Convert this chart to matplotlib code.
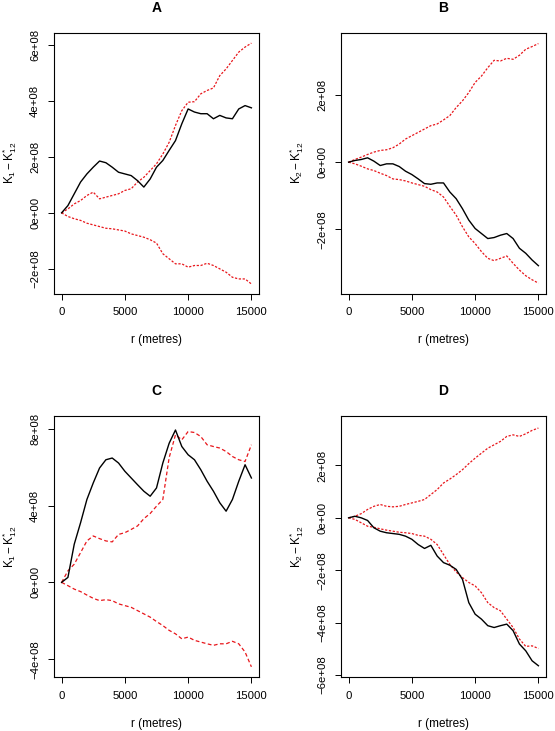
import numpy as np
import matplotlib
matplotlib.use("Agg")
import matplotlib.pyplot as plt

plt.rcParams['font.family'] = ['Liberation Sans', 'DejaVu Sans']
plt.rcParams['mathtext.fontset'] = 'custom'
plt.rcParams['mathtext.rm'] = 'Liberation Sans'
plt.rcParams['mathtext.it'] = 'Liberation Sans:italic'

# distance (metres), every 500 m
r = np.arange(0, 15001, 500)

# values in units of 1e+08
# panel A
a_obs = [0, 0.26, 0.68, 1.1, 1.39, 1.63, 1.85, 1.79, 1.63, 1.45, 1.39, 1.33, 1.15, 0.92, 1.21, 1.63,
         1.87, 2.23, 2.58, 3.18, 3.71, 3.6, 3.54, 3.54, 3.36, 3.48, 3.39, 3.36, 3.71, 3.83, 3.75]
a_hi = [0, 0.14, 0.32, 0.44, 0.62, 0.74, 0.5, 0.56, 0.62, 0.68, 0.8, 0.86, 1.1, 1.27, 1.51, 1.75,
        2.1, 2.52, 3.12, 3.65, 3.95, 3.97, 4.25, 4.37, 4.46, 4.9, 5.14, 5.44, 5.74, 5.92, 6.06]
a_lo = [0, -0.13, -0.21, -0.27, -0.37, -0.43, -0.49, -0.55, -0.57, -0.61, -0.65, -0.75, -0.81, -0.87,
        -0.96, -1.08, -1.46, -1.64, -1.82, -1.82, -1.94, -1.88, -1.88, -1.8, -1.88, -2.0, -2.12,
        -2.3, -2.36, -2.36, -2.54]
# panel B
b_obs = [0, 0.05, 0.08, 0.13, 0.03, -0.1, -0.05, -0.05, -0.13, -0.27, -0.37, -0.5, -0.64, -0.66,
         -0.62, -0.62, -0.89, -1.09, -1.39, -1.73, -1.98, -2.13, -2.28, -2.25, -2.18, -2.13, -2.28,
         -2.57, -2.72, -2.92, -3.09]
b_hi = [0, 0.08, 0.15, 0.23, 0.3, 0.35, 0.37, 0.43, 0.54, 0.69, 0.79, 0.89, 0.99, 1.09, 1.14, 1.26,
        1.39, 1.63, 1.83, 2.08, 2.38, 2.57, 2.82, 3.04, 3.02, 3.1, 3.07, 3.19, 3.37, 3.45, 3.54]
b_lo = [0, -0.05, -0.12, -0.2, -0.25, -0.33, -0.4, -0.5, -0.52, -0.56, -0.62, -0.67, -0.72, -0.82,
        -0.89, -1.04, -1.32, -1.58, -1.93, -2.23, -2.43, -2.67, -2.87, -2.94, -2.87, -2.8, -3.02,
        -3.22, -3.39, -3.51, -3.61]
# panel C
c_obs = [0, 0.26, 1.99, 3.11, 4.32, 5.18, 5.96, 6.39, 6.48, 6.22, 5.79, 5.44, 5.09, 4.75, 4.49, 4.92,
         6.22, 7.25, 7.94, 7.08, 6.65, 6.39, 5.87, 5.27, 4.75, 4.15, 3.71, 4.32, 5.27, 6.13, 5.44]
c_hi = [0, 0.6, 0.95, 1.55, 2.16, 2.42, 2.28, 2.16, 2.11, 2.5, 2.59, 2.76, 2.94, 3.32, 3.59, 3.97,
        4.32, 6.5, 7.69, 7.43, 7.86, 7.81, 7.6, 7.17, 7.08, 7.0, 6.82, 6.56, 6.39, 6.3, 7.17]
c_lo = [0, -0.17, -0.35, -0.48, -0.66, -0.83, -0.95, -0.9, -0.95, -1.12, -1.21, -1.3, -1.47, -1.64,
        -1.81, -2.04, -2.25, -2.5, -2.68, -2.94, -2.85, -3.02, -3.11, -3.2, -3.28, -3.2, -3.2,
        -3.07, -3.2, -3.63, -4.4]
# panel D
d_obs = [0, 0.06, 0, -0.1, -0.38, -0.51, -0.57, -0.6, -0.63, -0.7, -0.82, -1.02, -1.17, -1.05,
         -1.46, -1.71, -1.81, -1.97, -2.35, -3.24, -3.68, -3.87, -4.12, -4.19, -4.12, -4.06, -4.31,
         -4.82, -5.08, -5.46, -5.65]
d_hi = [0, 0.06, 0.16, 0.32, 0.44, 0.51, 0.44, 0.42, 0.44, 0.51, 0.57, 0.63, 0.7, 0.89, 1.08, 1.33,
        1.48, 1.65, 1.84, 2.07, 2.28, 2.47, 2.66, 2.79, 2.92, 3.11, 3.17, 3.11, 3.21, 3.34, 3.43]
d_lo = [0, -0.06, -0.19, -0.32, -0.36, -0.42, -0.47, -0.51, -0.55, -0.57, -0.6, -0.67, -0.7, -0.82,
        -1.02, -1.4, -1.78, -2.07, -2.28, -2.47, -2.6, -2.86, -3.24, -3.43, -3.55, -3.87, -4.19,
        -4.63, -4.91, -4.89, -4.99]

panel_titles = ['A', 'B', 'C', 'D']
ylabels = [r'$\mathrm{K}_1 - \mathrm{K}_{12}^{*}$', r'$\mathrm{K}_2 - \mathrm{K}_{12}^{*}$',
           r'$\mathrm{K}_1 - \mathrm{K}_{12}^{*}$', r'$\mathrm{K}_2 - \mathrm{K}_{12}^{*}$']
yticks = [[-2, 0, 2, 4, 6], [-2, 0, 2], [-4, 0, 4, 8], [-6, -4, -2, 0, 2]]
ylims = [(-2.88, 6.44), (-3.92, 3.87), (-4.93, 8.67), (-6.08, 3.89)]
series = [(a_obs, a_hi, a_lo), (b_obs, b_hi, b_lo), (c_obs, c_hi, c_lo), (d_obs, d_hi, d_lo)]


def tick_label(v):
    if v == 0:
        return '0e+00'
    if v < 0:
        return '\u2212%de+08' % -v
    return '%de+08' % v


W, H = 555, 731
fig = plt.figure(figsize=(W / 100, H / 100), dpi=100)
lefts = [54, 341, 54, 341]
tops = [32.5, 32.5, 416, 416]
aw, ah = 205, 261

for i in range(4):
    ax = fig.add_axes([lefts[i] / W, 1 - (tops[i] + ah) / H, aw / W, ah / H])
    obs, hi, lo = series[i]
    dash = (0, (3, 2)) if i == 2 else (0, (1.8, 1.3))
    ax.plot(r, np.array(hi) * 1e8, color='#e8161b', lw=0.9, linestyle=dash)
    ax.plot(r, np.array(lo) * 1e8, color='#e8161b', lw=0.9, linestyle=dash)
    ax.plot(r, np.array(obs) * 1e8, color='black', lw=1.0)

    ax.set_xlim(-600, 15600)
    ax.set_ylim(ylims[i][0] * 1e8, ylims[i][1] * 1e8)
    ax.set_xticks([0, 5000, 10000, 15000])
    ax.set_xticklabels(['0', '5000', '10000', '15000'])
    ax.set_yticks([v * 1e8 for v in yticks[i]])
    ax.set_yticklabels([tick_label(v) for v in yticks[i]], rotation=90, va='center')
    ax.tick_params(labelsize=8.2, length=4, width=0.7, pad=6)
    for s in ax.spines.values():
        s.set_linewidth(0.8)

    ax.set_title(panel_titles[i], fontsize=10, fontweight='bold', pad=15)
    ax.set_ylabel(ylabels[i], fontsize=8.5)
    ax.yaxis.set_label_coords(-44 / aw, 0.5)
    ax.yaxis.label.set_va('center')
    ax.set_xlabel('r (metres)', fontsize=8.5)
    ax.xaxis.set_label_coords(0.5, -47 / ah)
    ax.xaxis.label.set_va('center')

fig.savefig('out.png', dpi=100)
